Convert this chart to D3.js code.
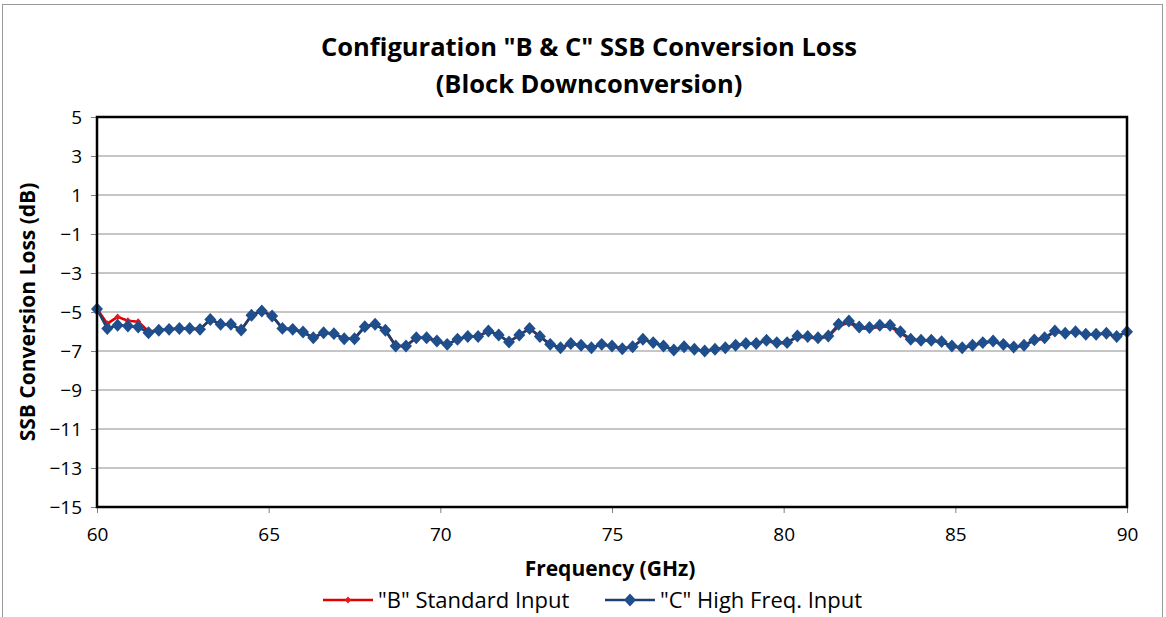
<!DOCTYPE html>
<html>
<head>
<meta charset="utf-8">
<script src="https://cdn.jsdelivr.net/npm/d3@7"></script>
<style>
  html, body { margin: 0; padding: 0; background: #fff; }
  svg { display: block; font-family: "Open Sans", "Noto Sans", sans-serif; }
</style>
</head>
<body>
<svg id="chart" width="1166" height="617"></svg>
<script>
// Frequency sweep (GHz)
const frequency = [
  60.0, 60.3, 60.6, 60.9, 61.2, 61.5, 61.8, 62.1, 62.4, 62.7,
  63.0, 63.3, 63.6, 63.9, 64.2, 64.5, 64.8, 65.1, 65.4, 65.7,
  66.0, 66.3, 66.6, 66.9, 67.2, 67.5, 67.8, 68.1, 68.4, 68.7,
  69.0, 69.3, 69.6, 69.9, 70.2, 70.5, 70.8, 71.1, 71.4, 71.7,
  72.0, 72.3, 72.6, 72.9, 73.2, 73.5, 73.8, 74.1, 74.4, 74.7,
  75.0, 75.3, 75.6, 75.9, 76.2, 76.5, 76.8, 77.1, 77.4, 77.7,
  78.0, 78.3, 78.6, 78.9, 79.2, 79.5, 79.8, 80.1, 80.4, 80.7,
  81.0, 81.3, 81.6, 81.9, 82.2, 82.5, 82.8, 83.1, 83.4, 83.7,
  84.0, 84.3, 84.6, 84.9, 85.2, 85.5, 85.8, 86.1, 86.4, 86.7,
  87.0, 87.3, 87.6, 87.9, 88.2, 88.5, 88.8, 89.1, 89.4, 89.7,
  90.0
];

// "B" Standard Input, SSB conversion loss (dB)
const lossB = [
  -4.85, -5.60, -5.25, -5.45, -5.50, -6.00, -5.94, -5.89, -5.85, -5.85,
  -5.89, -5.38, -5.63, -5.63, -5.92, -5.17, -4.95, -5.20, -5.84, -5.89,
  -6.03, -6.32, -6.06, -6.11, -6.37, -6.37, -5.75, -5.63, -5.94, -6.74,
  -6.74, -6.32, -6.32, -6.49, -6.66, -6.40, -6.26, -6.26, -5.97, -6.18,
  -6.54, -6.18, -5.85, -6.26, -6.66, -6.83, -6.62, -6.71, -6.83, -6.66,
  -6.74, -6.88, -6.78, -6.40, -6.57, -6.74, -6.95, -6.78, -6.91, -7.00,
  -6.91, -6.83, -6.71, -6.62, -6.62, -6.48, -6.60, -6.60, -6.27, -6.30,
  -6.36, -6.27, -5.72, -5.55, -5.85, -5.86, -5.75, -5.75, -6.08, -6.42,
  -6.47, -6.47, -6.54, -6.76, -6.85, -6.73, -6.59, -6.51, -6.68, -6.80,
  -6.73, -6.45, -6.37, -6.00, -6.10, -6.03, -6.15, -6.15, -6.10, -6.27,
  -6.02
];

// "C" High Freq. Input, SSB conversion loss (dB)
const lossC = [
  -4.85, -5.85, -5.68, -5.72, -5.77, -6.06, -5.94, -5.89, -5.85, -5.85,
  -5.89, -5.38, -5.63, -5.63, -5.92, -5.17, -4.95, -5.20, -5.84, -5.89,
  -6.03, -6.32, -6.06, -6.11, -6.37, -6.37, -5.75, -5.63, -5.94, -6.74,
  -6.74, -6.32, -6.32, -6.49, -6.66, -6.40, -6.26, -6.26, -5.97, -6.18,
  -6.54, -6.18, -5.85, -6.26, -6.66, -6.83, -6.62, -6.71, -6.83, -6.66,
  -6.74, -6.88, -6.78, -6.40, -6.57, -6.74, -6.95, -6.78, -6.91, -7.00,
  -6.91, -6.83, -6.71, -6.62, -6.62, -6.45, -6.57, -6.57, -6.23, -6.26,
  -6.32, -6.23, -5.63, -5.46, -5.77, -5.80, -5.68, -5.68, -6.01, -6.40,
  -6.45, -6.45, -6.52, -6.74, -6.83, -6.71, -6.57, -6.49, -6.66, -6.79,
  -6.71, -6.43, -6.32, -5.97, -6.09, -6.01, -6.14, -6.14, -6.09, -6.26,
  -6.01
];

const xTicks = [60, 65, 70, 75, 80, 85, 90];
const yTicks = [5, 3, 1, -1, -3, -5, -7, -9, -11, -13, -15];

const seriesNames = ['"B" Standard Input', '"C" High Freq. Input'];
const markerColors = ["#e41a1c", "#1f4e8c"];
const lineColors = ["#e00000", "#1c3f6e"];

const svg = d3.select("#chart");
const plot = { left: 97, right: 1127, top: 117, bottom: 507 };

// square-ish diamond marker (Excel style); size = half-width in px
const excelDiamond = {
  draw(ctx, r) {
    ctx.moveTo(0, -r * 1.08);
    ctx.lineTo(r, 0);
    ctx.lineTo(0, r * 1.08);
    ctx.lineTo(-r, 0);
    ctx.closePath();
  }
};
const markerPath = [
  d3.symbol().type(excelDiamond).size(3.2)(),
  d3.symbol().type(excelDiamond).size(6.0)()
];

// outer chart frame
svg.append("rect")
  .attr("x", 2.5).attr("y", 4.5)
  .attr("width", 1160).attr("height", 640)
  .attr("fill", "#fff").attr("stroke", "#9a9a9a").attr("stroke-width", 1);

const x = d3.scaleLinear().domain([60, 90]).range([plot.left, plot.right]);
const y = d3.scaleLinear().domain([-15, 5]).range([plot.bottom, plot.top]);

// horizontal gridlines
svg.append("g")
  .selectAll("line")
  .data(yTicks)
  .join("line")
  .attr("x1", plot.left).attr("x2", plot.right)
  .attr("y1", d => y(d)).attr("y2", d => y(d))
  .attr("stroke", "#8c8c8c").attr("stroke-width", 1);

// axes
const xAxis = svg.append("g")
  .attr("transform", `translate(0,${plot.bottom})`)
  .call(d3.axisBottom(x).tickValues(xTicks).tickSize(6).tickPadding(15).tickFormat(d3.format("d")));
const yAxis = svg.append("g")
  .attr("transform", `translate(${plot.left},0)`)
  .call(d3.axisLeft(y).tickValues(yTicks).tickSize(6).tickPadding(9).tickFormat(d3.format("d")));

[xAxis, yAxis].forEach(g => {
  g.select(".domain").remove();
  g.selectAll(".tick line").attr("stroke", "#7f7f7f");
  g.selectAll(".tick text")
    .attr("fill", "#000")
    .attr("font-size", 19)
    .attr("font-family", "'Open Sans', sans-serif");
});
yAxis.selectAll(".tick text").attr("dy", "0.36em");

// data series
const indices = d3.range(frequency.length);
const series = [lossB, lossC];
const line = vals => d3.line()
  .x(i => x(frequency[i]))
  .y(i => y(vals[i]))(indices);

series.forEach((vals, s) => {
  const g = svg.append("g");
  g.append("path")
    .attr("d", line(vals))
    .attr("fill", "none")
    .attr("stroke", lineColors[s])
    .attr("stroke-width", 2.6)
    .attr("stroke-linejoin", "round");
  g.selectAll("path.mk")
    .data(indices)
    .join("path")
    .attr("class", "mk")
    .attr("transform", i => `translate(${x(frequency[i])},${y(vals[i])})`)
    .attr("d", markerPath[s])
    .attr("fill", markerColors[s]);
});

// plot border
svg.append("rect")
  .attr("x", plot.left).attr("y", plot.top)
  .attr("width", plot.right - plot.left).attr("height", plot.bottom - plot.top)
  .attr("fill", "none").attr("stroke", "#000").attr("stroke-width", 2.5);

// titles
const title = svg.append("text")
  .attr("text-anchor", "middle")
  .attr("font-weight", "bold")
  .attr("font-size", 25.5)
  .attr("fill", "#000");
title.append("tspan").attr("x", 589).attr("y", 56).text('Configuration "B & C" SSB Conversion Loss');
title.append("tspan").attr("x", 589).attr("y", 93).text("(Block Downconversion)");

svg.append("text")
  .attr("x", 610).attr("y", 576)
  .attr("text-anchor", "middle").attr("font-weight", "bold").attr("font-size", 21)
  .text("Frequency (GHz)");

svg.append("text")
  .attr("transform", `translate(35,${(plot.top + plot.bottom) / 2}) rotate(-90)`)
  .attr("text-anchor", "middle").attr("font-weight", "bold").attr("font-size", 21)
  .text("SSB Conversion Loss (dB)");

// legend
const legendItems = [
  { x: 323, textX: 378 },
  { x: 605, textX: 660 }
];
legendItems.forEach((it, s) => {
  const g = svg.append("g");
  g.append("line")
    .attr("x1", it.x).attr("x2", it.x + 50)
    .attr("y1", 600).attr("y2", 600)
    .attr("stroke", lineColors[s]).attr("stroke-width", 2.6);
  g.append("path")
    .attr("transform", `translate(${it.x + 25},600)`)
    .attr("d", markerPath[s])
    .attr("fill", markerColors[s]);
  g.append("text")
    .attr("x", it.textX).attr("y", 600).attr("dy", "0.35em")
    .attr("font-size", 22).attr("fill", "#000")
    .text(seriesNames[s]);
});
</script>
</body>
</html>
